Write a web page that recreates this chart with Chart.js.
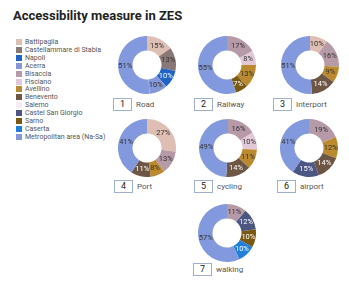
<!DOCTYPE html>
<html>
<head>
<meta charset="utf-8">
<script src="https://cdn.jsdelivr.net/npm/chart.js@4"></script>
<style>
  body { margin: 0; background: #fff; font-family: Roboto, "Noto Sans", sans-serif; }
  #wrap { position: relative; width: 349px; height: 286px; overflow: hidden; }
  h1 { position: absolute; left: 13px; top: 8px; margin: 0; font-size: 13px; font-weight: bold; color: #222; }
  #legend { position: absolute; left: 16px; top: 39px; font-size: 7px; color: #555; line-height: 7.9px; }
  #legend div { white-space: nowrap; }
  #legend span { display: inline-block; width: 6px; height: 6px; margin-right: 3px; vertical-align: -1px; }
  canvas { position: absolute; }
  .tag { position: absolute; font-size: 8px; color: #555; white-space: nowrap; }
  .tag b { display: inline-block; width: 17px; height: 11px; border: 1px solid #9fb0cc; text-align: center;
           font-weight: normal; font-size: 9px; line-height: 11px; color: #222; margin-right: 4px; }
</style>
</head>
<body>
<div id="wrap">
  <h1>Accessibility measure in ZES</h1>
  <div id="legend"></div>
</div>
<script>
  const cities = [
    "Battipaglia", "Castellammare di Stabia", "Napoli", "Acerra", "Bisaccia", "Fisciano",
    "Avellino", "Benevento", "Salerno", "Castel San Giorgio", "Sarno", "Caserta",
    "Metropolitan area (Na-Sa)",
  ];
  const cityColors = [
    "#dfbfb3", "#8a7877", "#1f63c4", "#8497d8", "#b69aa7", "#e3c8d8",
    "#bb8a2e", "#6e5645", "#f6eaf6", "#4b5682", "#7a5a12", "#1f80db",
    "#8299de",
  ];
  const darkSlices = ["Napoli", "Benevento", "Castel San Giorgio", "Sarno", "Caserta"];

  const modes = ["Road", "Railway", "Interport", "Port", "cycling", "airport", "walking"];
  // shares per city, in legend order (0 = not present)
  const road      = [15, 13, 10, 10, 0, 0, 0, 0, 0, 0, 0, 0, 51];
  const railway   = [0, 0, 0, 0, 17, 8, 13, 0, 0, 0, 7, 0, 55];
  const interport = [10, 0, 0, 0, 16, 0, 9, 14, 0, 0, 0, 0, 51];
  const port      = [27, 0, 0, 0, 13, 0, 8, 11, 0, 0, 0, 0, 41];
  const cycling   = [0, 0, 0, 0, 16, 10, 11, 14, 0, 0, 0, 0, 49];
  const airport   = [0, 0, 0, 0, 19, 0, 12, 14, 0, 15, 0, 0, 41];
  const walking   = [0, 0, 0, 0, 11, 0, 0, 0, 0, 12, 10, 10, 57];
  const series = [road, railway, interport, port, cycling, airport, walking];

  // layout: doughnut centre and caption position
  const spots = [
    { cx: 147, cy: 65, tx: 113, ty: 98 },
    { cx: 227, cy: 65, tx: 194, ty: 98 },
    { cx: 310, cy: 65, tx: 273, ty: 98 },
    { cx: 147, cy: 148, tx: 114, ty: 180 },
    { cx: 228, cy: 148, tx: 194, ty: 180 },
    { cx: 309, cy: 148, tx: 277, ty: 180 },
    { cx: 227, cy: 233, tx: 193, ty: 263 },
  ];
  const R = 29;

  const legendEl = document.getElementById("legend");
  cities.forEach((c, i) => {
    const row = document.createElement("div");
    row.innerHTML = `<span style="background:${cityColors[i]}"></span>${c}`;
    legendEl.appendChild(row);
  });

  const sliceLabels = {
    id: "sliceLabels",
    afterDatasetsDraw(chart) {
      const ctx = chart.ctx;
      const meta = chart.getDatasetMeta(0);
      const data = chart.data.datasets[0].data;
      ctx.save();
      ctx.font = "7.5px Roboto, sans-serif";
      ctx.textAlign = "center";
      ctx.textBaseline = "middle";
      meta.data.forEach((arc, i) => {
        if (!data[i]) return;
        const p = arc.tooltipPosition();
        ctx.fillStyle = darkSlices.includes(cities[i]) ? "#fff" : "#333";
        ctx.fillText(data[i] + "%", p.x, p.y);
      });
      ctx.restore();
    },
  };

  const wrap = document.getElementById("wrap");
  modes.forEach((mode, k) => {
    const s = spots[k];
    const cv = document.createElement("canvas");
    cv.width = R * 2;
    cv.height = R * 2;
    cv.style.left = (s.cx - R) + "px";
    cv.style.top = (s.cy - R) + "px";
    wrap.appendChild(cv);

    const tag = document.createElement("div");
    tag.className = "tag";
    tag.style.left = s.tx + "px";
    tag.style.top = s.ty + "px";
    tag.innerHTML = `<b>${k + 1}</b>${mode}`;
    wrap.appendChild(tag);

    new Chart(cv, {
      type: "doughnut",
      data: {
        labels: cities,
        datasets: [{
          data: series[k],
          backgroundColor: cityColors,
          borderWidth: 0,
        }],
      },
      options: {
        responsive: false,
        animation: false,
        cutout: "50%",
        layout: { padding: 0 },
        plugins: { legend: { display: false }, tooltip: { enabled: false } },
      },
      plugins: [sliceLabels],
    });
  });
</script>
</body>
</html>
